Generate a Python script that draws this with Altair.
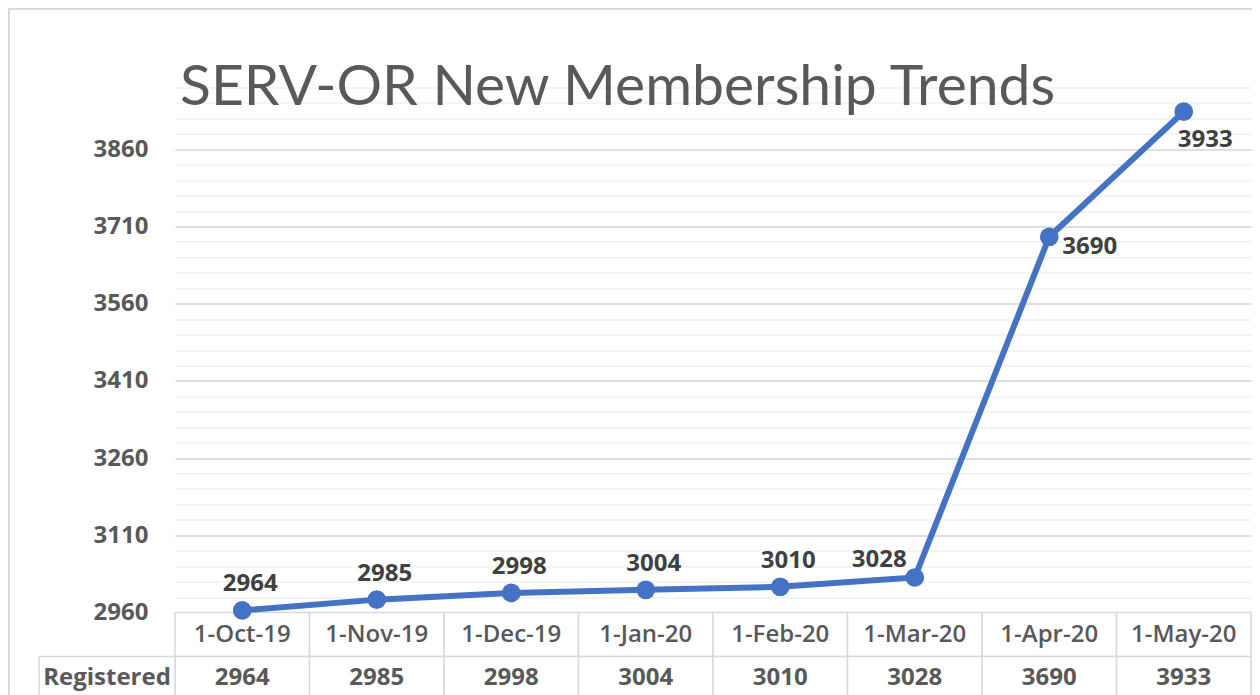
import altair as alt
import pandas as pd

dates = ["1-Oct-19", "1-Nov-19", "1-Dec-19", "1-Jan-20",
         "1-Feb-20", "1-Mar-20", "1-Apr-20", "1-May-20"]
registered = [2964, 2985, 2998, 3004, 3010, 3028, 3690, 3933]
major_ticks = [2960, 3110, 3260, 3410, 3560, 3710, 3860]
minor_ticks = list(range(2960, 3981, 30))
y_domain = [2960, 3980]
title_text = "SERV-OR New Membership Trends"
row_label = "Registered"

df = pd.DataFrame({"date": dates, "registered": registered, "idx": list(range(len(dates)))})

W, H = 1076, 525
GREY = "#595959"
BLUE = "#4472C4"
FONT = "Open Sans"

xscale = alt.Scale(type="band", paddingInner=0, paddingOuter=0, domain=dates)
yscale = alt.Scale(domain=y_domain, nice=False, zero=False)


def xenc(center=True):
    if center:
        return alt.X("date:N", sort=dates, scale=xscale, axis=None, bandPosition=0.5)
    return alt.X("date:N", sort=dates, scale=xscale, axis=None)


def yenc():
    return alt.Y("registered:Q", scale=yscale, axis=None, title=None)


base = alt.Chart(df)

frame = alt.Chart(pd.DataFrame({"t": ["frame"]})).mark_rect(
    fill="white", fillOpacity=0, stroke="#d9d9d9", strokeWidth=2).encode(
    x=alt.value(-166), x2=alt.value(W + 40), y=alt.value(-78.5), y2=alt.value(H + 300))

minor = base.mark_point(opacity=0).encode(
    x=xenc(),
    y=alt.Y("registered:Q", scale=yscale, title=None,
            axis=alt.Axis(values=minor_ticks, labels=False, ticks=False, domain=False,
                          grid=True, gridColor="#f0f0f0", gridWidth=1.5, orient="right")),
)

major = base.mark_point(opacity=0).encode(
    x=xenc(),
    y=alt.Y("registered:Q", scale=yscale, title=None,
            axis=alt.Axis(values=major_ticks, ticks=False, domain=False, grid=True,
                          gridColor="#d9d9d9", gridWidth=1.5, labelFontSize=24, format="d",
                          labelFont=FONT, labelFontWeight="bold", labelColor=GREY,
                          labelPadding=27, orient="left")),
)

line = base.mark_line(color=BLUE, strokeWidth=6).encode(x=xenc(), y=yenc())

points = base.mark_circle(color=BLUE, size=350, opacity=1).encode(x=xenc(), y=yenc())

lab_style = dict(font=FONT, fontSize=24, fontWeight="bold", color="#404040", baseline="middle")

lab_a = base.transform_filter("datum.idx <= 4").mark_text(align="center", dx=8, dy=-26, **lab_style).encode(
    x=xenc(), y=yenc(), text=alt.Text("registered:Q", format="d"))
lab_b = base.transform_filter("datum.idx == 5").mark_text(align="right", dx=-8, dy=-18, **lab_style).encode(
    x=xenc(), y=yenc(), text=alt.Text("registered:Q", format="d"))
lab_c = base.transform_filter("datum.idx == 6").mark_text(align="left", dx=13, dy=10, **lab_style).encode(
    x=xenc(), y=yenc(), text=alt.Text("registered:Q", format="d"))
lab_d = base.transform_filter("datum.idx == 7").mark_text(align="left", dx=-6, dy=28, **lab_style).encode(
    x=xenc(), y=yenc(), text=alt.Text("registered:Q", format="d"))

cell_style = dict(fill="white", stroke="#d9d9d9", strokeWidth=1.5)
head_cells = base.mark_rect(**cell_style).encode(
    x=xenc(False), y=alt.value(H), y2=alt.value(H + 44))
data_cells = base.mark_rect(**cell_style).encode(
    x=xenc(False), y=alt.value(H + 44), y2=alt.value(H + 100))
label_cell = alt.Chart(pd.DataFrame({"t": [row_label]})).mark_rect(**cell_style).encode(
    x=alt.value(-136), x2=alt.value(0), y=alt.value(H + 44), y2=alt.value(H + 100))

head_text = base.mark_text(font=FONT, fontSize=24, fontWeight=600, color=GREY, baseline="middle").encode(
    x=xenc(), y=alt.value(H + 22.5), text="date:N")
data_text = base.mark_text(font=FONT, fontSize=24, fontWeight="bold", color=GREY, baseline="middle").encode(
    x=xenc(), y=alt.value(H + 65.5), text=alt.Text("registered:Q", format="d"))
label_text = alt.Chart(pd.DataFrame({"t": [row_label]})).mark_text(
    font=FONT, fontSize=24, fontWeight="bold", color=GREY, baseline="middle", align="center").encode(
    x=alt.value(-68), y=alt.value(H + 65.5), text="t:N")

chart = alt.layer(
    frame, minor, major, head_cells, data_cells, label_cell, line,
    points, lab_a, lab_b, lab_c, lab_d, head_text, data_text, label_text,
).resolve_axis(y="independent").properties(
    width=W, height=H,
    title=alt.TitleParams(title_text, anchor="start", frame="group", font="Lato",
                          fontSize=57, fontWeight="normal", color=GREY,
                          baseline="alphabetic", offset=0, dx=5, dy=154),
    padding={"left": 167, "top": 79.5, "right": 1, "bottom": 85},
    autosize=alt.AutoSizeParams(type="none"),
    background="white",
).configure_view(strokeWidth=0)

chart.save("out.html", embed_options={"renderer": "svg", "actions": False})
